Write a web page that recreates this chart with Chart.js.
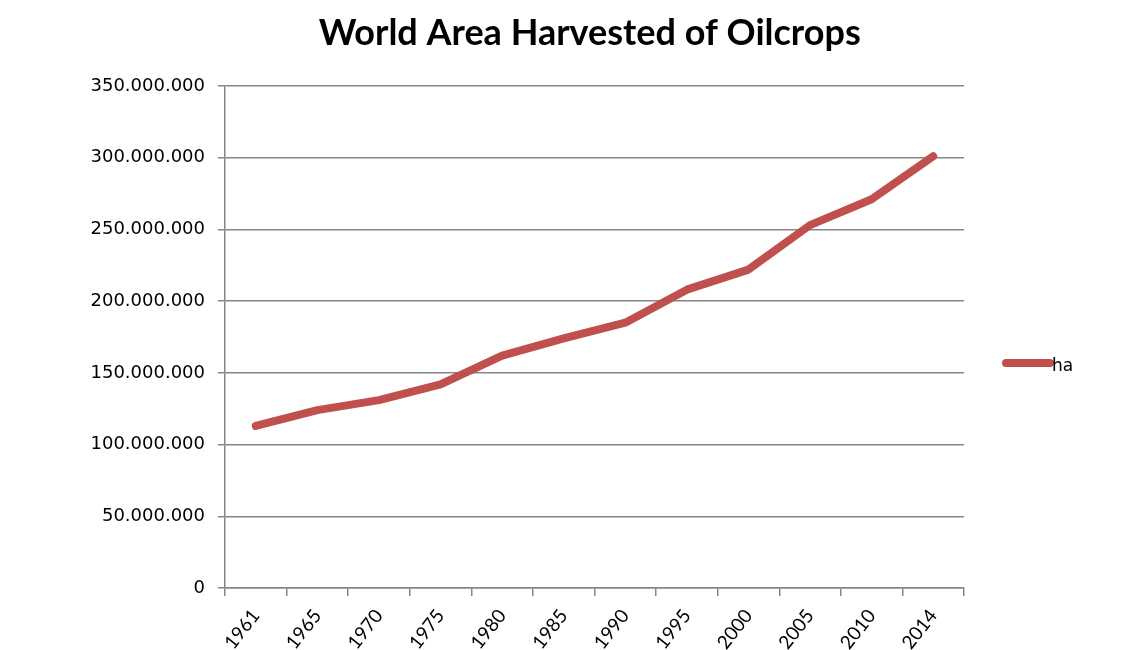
<!DOCTYPE html>
<html>
<head>
<meta charset="utf-8">
<script src="https://cdn.jsdelivr.net/npm/chart.js@4/dist/chart.umd.min.js"></script>
<style>
html,body{margin:0;padding:0;background:#fff;}
#wrap{width:1145px;height:650px;}
</style>
</head>
<body>
<div id="wrap"><canvas id="c" width="1145" height="650"></canvas></div>
<script>
const years = ["1961","1965","1970","1975","1980","1985","1990","1995","2000","2005","2010","2014"];
const haValues = [113000000,124000000,131000000,142000000,162000000,174000000,185000000,208000000,222000000,253000000,271000000,301000000];
const seriesLabel = "ha";
const chartTitle = "World Area Harvested of Oilcrops";
const yMax = 350000000;
const yStep = 50000000;

function fmt(v){
  return String(Math.round(v)).replace(/\B(?=(\d{3})+(?!\d))/g, ".");
}

const gridColor = "#868686";
const lineColor = "#C0504D";

const customTitleLegend = {
  id: "customTitleLegend",
  afterDraw(chart){
    const ctx = chart.ctx;
    const ds = chart.data.datasets[0];
    const area = chart.chartArea;
    ctx.save();
    // title
    ctx.fillStyle = "#000";
    ctx.font = "bold 36px Lato";
    ctx.textAlign = "center";
    ctx.textBaseline = "middle";
    ctx.fillText(chartTitle, chart.width * 0.515, 33);
    // legend
    const yMid = area.top + (area.bottom - area.top) * 0.552;
    const x0 = area.right + 42;
    ctx.strokeStyle = ds.borderColor;
    ctx.lineWidth = 8;
    ctx.lineCap = "round";
    ctx.beginPath();
    ctx.moveTo(x0, yMid);
    ctx.lineTo(x0 + 44, yMid);
    ctx.stroke();
    ctx.font = "17px 'DejaVu Sans'";
    ctx.textAlign = "left";
    ctx.fillText(ds.label, x0 + 46, yMid + 3);
    ctx.restore();
  }
};

new Chart(document.getElementById("c"), {
  type: "line",
  data: {
    labels: years,
    datasets: [{
      label: seriesLabel,
      data: haValues,
      borderColor: lineColor,
      backgroundColor: lineColor,
      borderWidth: 8,
      pointRadius: 0,
      tension: 0,
      borderCapStyle: "round",
      borderJoinStyle: "round"
    }]
  },
  options: {
    responsive: false,
    animation: false,
    layout: { padding: { left: 0, right: 181, top: 86, bottom: 0 } },
    plugins: {
      title: { display: false },
      legend: { display: false },
      tooltip: { enabled: false }
    },
    scales: {
      x: {
        offset: true,
        grid: { display: true, drawOnChartArea: false, drawTicks: true, tickLength: 8, offset: true, color: gridColor, lineWidth: 1.5 },
        border: { display: true, color: gridColor, width: 1.5 },
        ticks: { color: "#000", font: { family: "Lato", size: 19 }, maxRotation: 52, minRotation: 52, padding: 9 },
        afterFit(s){ s.height = 62; }
      },
      y: {
        min: 0,
        max: yMax,
        grid: { color: gridColor, lineWidth: 1.5, drawTicks: true, tickLength: 7 },
        border: { display: true, color: gridColor, width: 1.5 },
        ticks: { stepSize: yStep, color: "#000", font: { family: "DejaVu Sans", size: 18 }, padding: 13, callback: v => fmt(v) },
        afterFit(s){ s.width = 225; }
      }
    }
  },
  plugins: [customTitleLegend]
});
</script>
</body>
</html>
